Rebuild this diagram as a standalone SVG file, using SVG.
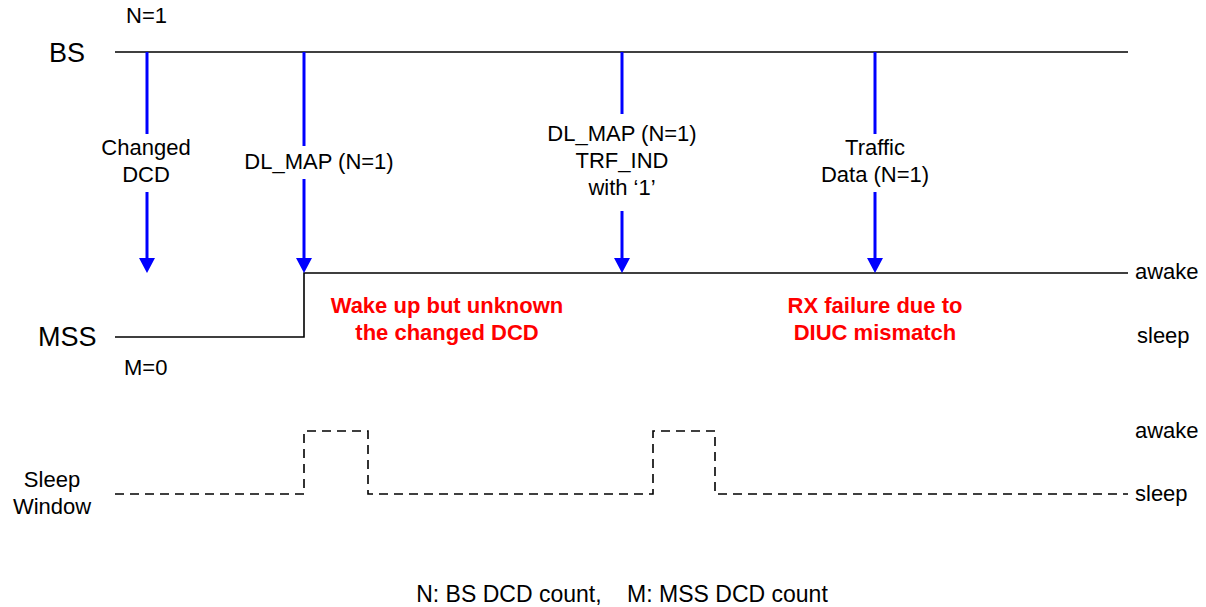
<svg xmlns="http://www.w3.org/2000/svg" width="1206" height="607" viewBox="0 0 1206 607">
<style>
.t{font-family:"Liberation Sans",Arial,sans-serif;font-size:22px;fill:#000}
.big{font-size:27px}
.m{text-anchor:middle}
.r{font-family:"Liberation Sans",Arial,sans-serif;font-size:22px;font-weight:bold;fill:#FF0000;text-anchor:middle}
.ln{stroke:#000;stroke-width:1.6;fill:none}
.ds{stroke:#000;stroke-width:1.6;fill:none;stroke-dasharray:9,6}
.ar{stroke:#0000FF;stroke-width:3;fill:none}
.hd{fill:#0000FF}
</style>
<g id="bs"><line class="ln" x1="115" y1="52" x2="1128" y2="52"/><text class="t big" x="49" y="62">BS</text><text class="t" x="126" y="23">N=1</text></g>
<g id="mss"><polyline class="ln" points="115,337 304,337 304,273 1128,273"/><text class="t big" x="38" y="346">MSS</text><text class="t" x="124" y="375">M=0</text><text class="t" x="1135" y="279">awake</text><text class="t" x="1137" y="343">sleep</text></g>
<g id="sleepwin"><polyline class="ds" points="115,494 304,494 304,431 368,431 368,494 653,494 653,431 715,431 715,494 1128,494"/><text class="t m" x="52" y="487">Sleep</text><text class="t m" x="52" y="514">Window</text><text class="t" x="1135" y="438">awake</text><text class="t" x="1135" y="501">sleep</text></g>
<g id="connectors">
<line class="ar" x1="147" y1="52" x2="147" y2="134"/><line class="ar" x1="147" y1="192" x2="147" y2="260"/><polygon class="hd" points="139,258 155,258 147,273"/>
<line class="ar" x1="304" y1="52" x2="304" y2="146"/><line class="ar" x1="304" y1="179" x2="304" y2="260"/><polygon class="hd" points="296,258 312,258 304,273"/>
<line class="ar" x1="622" y1="52" x2="622" y2="114"/><line class="ar" x1="622" y1="211" x2="622" y2="260"/><polygon class="hd" points="614,258 630,258 622,273"/>
<line class="ar" x1="875" y1="52" x2="875" y2="134"/><line class="ar" x1="875" y1="192" x2="875" y2="260"/><polygon class="hd" points="867,258 883,258 875,273"/>
</g>
<g id="labels">
<text class="t m" x="146" y="155">Changed</text><text class="t m" x="146" y="182">DCD</text>
<text class="t m" x="319" y="169">DL_MAP (N=1)</text>
<text class="t m" x="622" y="141">DL_MAP (N=1)</text><text class="t m" x="622" y="168">TRF_IND</text><text class="t m" x="622" y="195">with ‘1’</text>
<text class="t m" x="875" y="155">Traffic</text><text class="t m" x="875" y="182">Data (N=1)</text>
<text class="r" x="447" y="313">Wake up but unknown</text><text class="r" x="447" y="340">the changed DCD</text>
<text class="r" x="875" y="313">RX failure due to</text><text class="r" x="875" y="340">DIUC mismatch</text>
<text class="t m" x="622" y="602" style="font-size:23px" xml:space="preserve">N: BS DCD count,    M: MSS DCD count</text>
</g>
</svg>
